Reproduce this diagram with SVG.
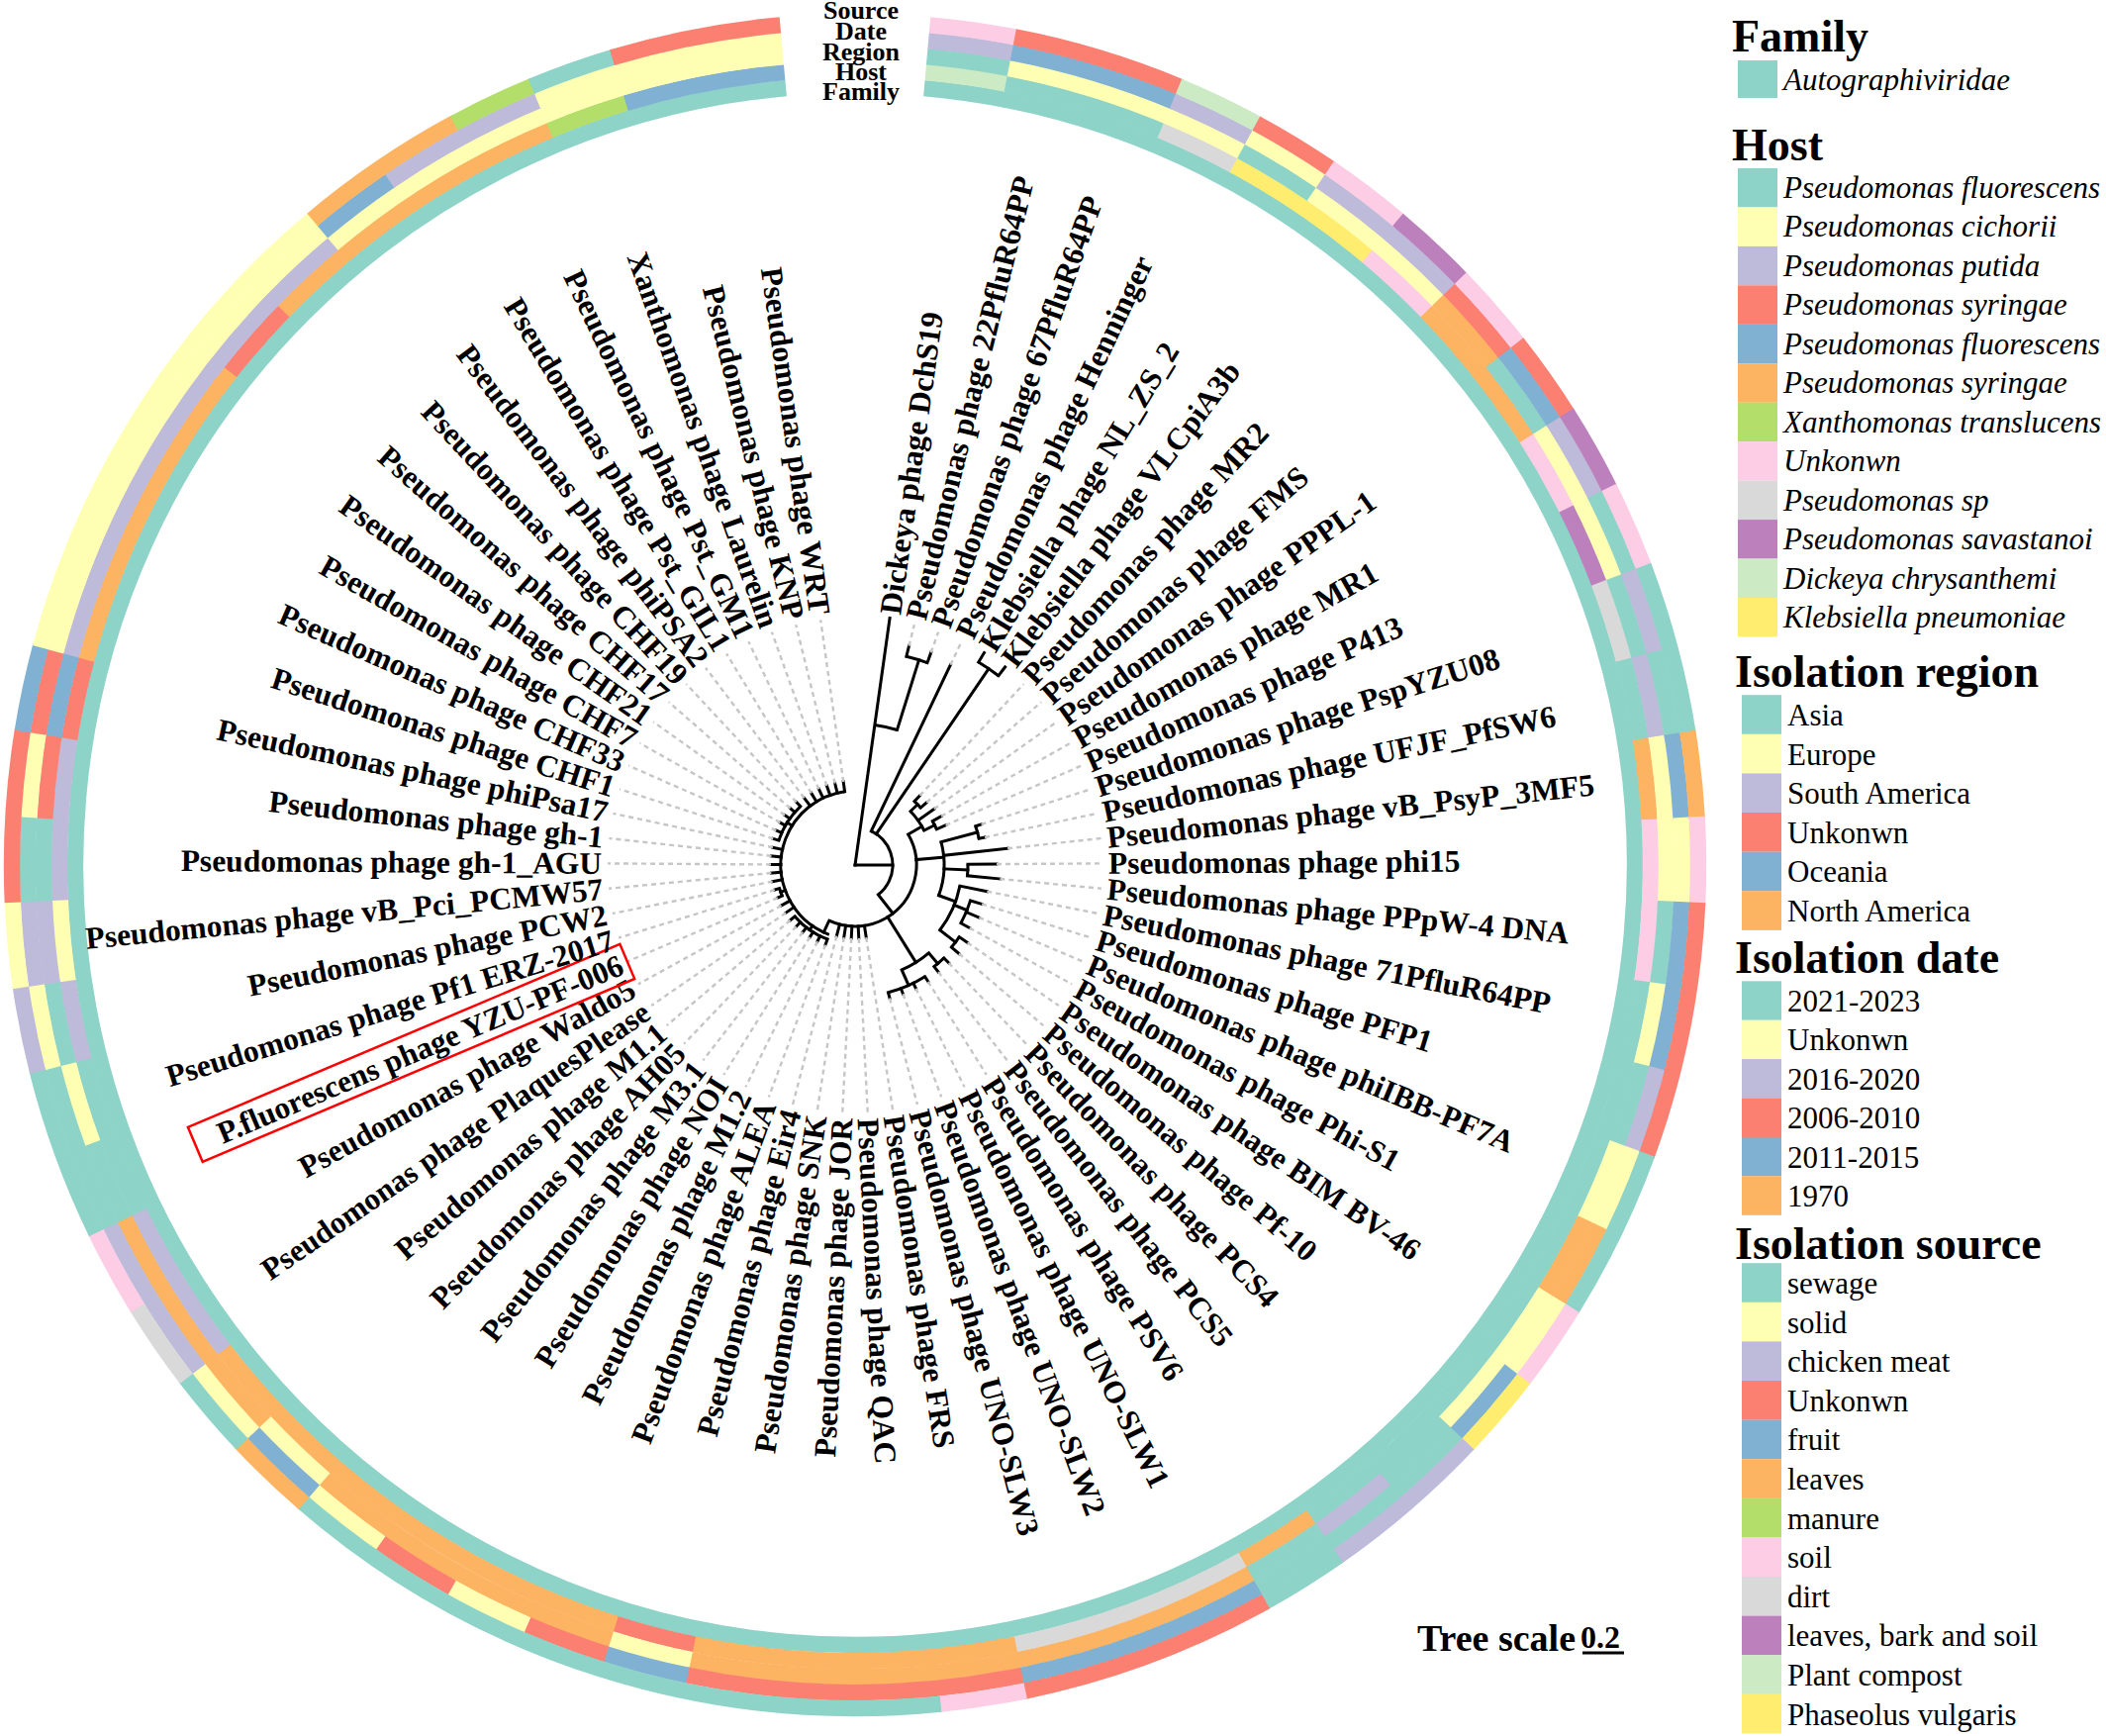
<svg xmlns="http://www.w3.org/2000/svg" width="2128" height="1754" viewBox="0 0 2128 1754">
<style>
.rg circle{fill:none;stroke-width:16.4}
.T{stroke:#8DD3C7}.Y{stroke:#FFFFB3}.L{stroke:#BEBADA}.S{stroke:#FB8072}.B{stroke:#80B1D3}.O{stroke:#FDB462}.G{stroke:#B3DE69}.P{stroke:#FCCDE5}.Gr{stroke:#D9D9D9}.Pu{stroke:#BC80BD}.LG{stroke:#CCEBC5}.K{stroke:#FFED6F}
.fT{fill:#8DD3C7}.fY{fill:#FFFFB3}.fL{fill:#BEBADA}.fS{fill:#FB8072}.fB{fill:#80B1D3}.fO{fill:#FDB462}.fG{fill:#B3DE69}.fP{fill:#FCCDE5}.fGr{fill:#D9D9D9}.fPu{fill:#BC80BD}.fLG{fill:#CCEBC5}.fK{fill:#FFED6F}
.tree line,.tree circle{stroke:#000;stroke-width:3;fill:none}
.tree line{stroke-linecap:square}
.dl{stroke:#c6c6c6;stroke-width:2.4;stroke-dasharray:5 4}
.lbl{font-family:"Liberation Serif","Times New Roman",serif;font-weight:bold;font-size:31.5px;dominant-baseline:central;fill:#000}
.rl{font-family:"Liberation Serif","Times New Roman",serif;font-weight:bold;font-size:26px;text-anchor:middle}
.lh{font-family:"Liberation Serif","Times New Roman",serif;font-weight:bold;font-size:46px}
.li{font-family:"Liberation Serif","Times New Roman",serif;font-style:italic;font-size:31px}
.lr{font-family:"Liberation Serif","Times New Roman",serif;font-size:31px}
.ts{font-family:"Liberation Serif","Times New Roman",serif;font-weight:bold}
</style>
<rect width="2128" height="1754" fill="#fff"/>
<g transform="translate(864 874)">
<g id="ring-family" class="rg">
<circle r="788" pathLength="360" class="T" stroke-dasharray="349.83 400" transform="rotate(-84.915)"/>
</g>
<g id="ring-host" class="rg">
<circle r="804" pathLength="360" class="LG" stroke-dasharray="5.98 400" transform="rotate(-84.915)"/>
<circle r="804" pathLength="360" class="T" stroke-dasharray="11.81 400" transform="rotate(-79.085)"/>
<circle r="804" pathLength="360" class="Gr" stroke-dasharray="5.98 400" transform="rotate(-67.424)"/>
<circle r="804" pathLength="360" class="K" stroke-dasharray="11.81 400" transform="rotate(-61.593)"/>
<circle r="804" pathLength="360" class="P" stroke-dasharray="5.98 400" transform="rotate(-49.932)"/>
<circle r="804" pathLength="360" class="O" stroke-dasharray="11.81 400" transform="rotate(-44.102)"/>
<circle r="804" pathLength="360" class="P" stroke-dasharray="5.98 400" transform="rotate(-32.441)"/>
<circle r="804" pathLength="360" class="Pu" stroke-dasharray="5.98 400" transform="rotate(-26.610)"/>
<circle r="804" pathLength="360" class="Gr" stroke-dasharray="5.98 400" transform="rotate(-20.780)"/>
<circle r="804" pathLength="360" class="T" stroke-dasharray="5.98 400" transform="rotate(-14.949)"/>
<circle r="804" pathLength="360" class="O" stroke-dasharray="5.98 400" transform="rotate(-9.119)"/>
<circle r="804" pathLength="360" class="P" stroke-dasharray="11.81 400" transform="rotate(-3.288)"/>
<circle r="804" pathLength="360" class="T" stroke-dasharray="46.79 400" transform="rotate(8.373)"/>
<circle r="804" pathLength="360" class="O" stroke-dasharray="5.98 400" transform="rotate(55.017)"/>
<circle r="804" pathLength="360" class="Gr" stroke-dasharray="17.64 400" transform="rotate(60.847)"/>
<circle r="804" pathLength="360" class="O" stroke-dasharray="23.47 400" transform="rotate(78.339)"/>
<circle r="804" pathLength="360" class="S" stroke-dasharray="5.98 400" transform="rotate(101.661)"/>
<circle r="804" pathLength="360" class="O" stroke-dasharray="35.13 400" transform="rotate(107.491)"/>
<circle r="804" pathLength="360" class="L" stroke-dasharray="11.81 400" transform="rotate(142.474)"/>
<circle r="804" pathLength="360" class="T" stroke-dasharray="11.81 400" transform="rotate(154.135)"/>
<circle r="804" pathLength="360" class="L" stroke-dasharray="5.98 400" transform="rotate(165.796)"/>
<circle r="804" pathLength="360" class="Y" stroke-dasharray="5.98 400" transform="rotate(171.627)"/>
<circle r="804" pathLength="360" class="L" stroke-dasharray="11.81 400" transform="rotate(177.457)"/>
<circle r="804" pathLength="360" class="S" stroke-dasharray="5.98 400" transform="rotate(189.118)"/>
<circle r="804" pathLength="360" class="O" stroke-dasharray="23.47 400" transform="rotate(194.949)"/>
<circle r="804" pathLength="360" class="S" stroke-dasharray="5.98 400" transform="rotate(218.271)"/>
<circle r="804" pathLength="360" class="O" stroke-dasharray="23.47 400" transform="rotate(224.101)"/>
<circle r="804" pathLength="360" class="G" stroke-dasharray="5.98 400" transform="rotate(247.423)"/>
<circle r="804" pathLength="360" class="B" stroke-dasharray="11.66 400" transform="rotate(253.254)"/>
</g>
<g id="ring-region" class="rg">
<circle r="820" pathLength="360" class="T" stroke-dasharray="5.98 400" transform="rotate(-84.915)"/>
<circle r="820" pathLength="360" class="Y" stroke-dasharray="17.64 400" transform="rotate(-79.085)"/>
<circle r="820" pathLength="360" class="T" stroke-dasharray="5.98 400" transform="rotate(-61.593)"/>
<circle r="820" pathLength="360" class="Y" stroke-dasharray="11.81 400" transform="rotate(-55.763)"/>
<circle r="820" pathLength="360" class="O" stroke-dasharray="5.98 400" transform="rotate(-44.102)"/>
<circle r="820" pathLength="360" class="T" stroke-dasharray="5.98 400" transform="rotate(-38.271)"/>
<circle r="820" pathLength="360" class="Y" stroke-dasharray="11.81 400" transform="rotate(-32.441)"/>
<circle r="820" pathLength="360" class="T" stroke-dasharray="5.98 400" transform="rotate(-20.780)"/>
<circle r="820" pathLength="360" class="L" stroke-dasharray="5.98 400" transform="rotate(-14.949)"/>
<circle r="820" pathLength="360" class="Y" stroke-dasharray="11.81 400" transform="rotate(-9.119)"/>
<circle r="820" pathLength="360" class="T" stroke-dasharray="5.98 400" transform="rotate(2.542)"/>
<circle r="820" pathLength="360" class="Y" stroke-dasharray="5.98 400" transform="rotate(8.373)"/>
<circle r="820" pathLength="360" class="T" stroke-dasharray="5.98 400" transform="rotate(14.203)"/>
<circle r="820" pathLength="360" class="Y" stroke-dasharray="5.98 400" transform="rotate(20.034)"/>
<circle r="820" pathLength="360" class="O" stroke-dasharray="5.98 400" transform="rotate(25.864)"/>
<circle r="820" pathLength="360" class="Y" stroke-dasharray="11.81 400" transform="rotate(31.695)"/>
<circle r="820" pathLength="360" class="T" stroke-dasharray="5.98 400" transform="rotate(43.356)"/>
<circle r="820" pathLength="360" class="L" stroke-dasharray="5.98 400" transform="rotate(49.186)"/>
<circle r="820" pathLength="360" class="T" stroke-dasharray="5.98 400" transform="rotate(55.017)"/>
<circle r="820" pathLength="360" class="O" stroke-dasharray="40.96 400" transform="rotate(60.847)"/>
<circle r="820" pathLength="360" class="Y" stroke-dasharray="5.98 400" transform="rotate(101.661)"/>
<circle r="820" pathLength="360" class="O" stroke-dasharray="23.47 400" transform="rotate(107.491)"/>
<circle r="820" pathLength="360" class="Y" stroke-dasharray="5.98 400" transform="rotate(130.813)"/>
<circle r="820" pathLength="360" class="O" stroke-dasharray="17.64 400" transform="rotate(136.644)"/>
<circle r="820" pathLength="360" class="T" stroke-dasharray="5.98 400" transform="rotate(154.135)"/>
<circle r="820" pathLength="360" class="Y" stroke-dasharray="5.98 400" transform="rotate(159.966)"/>
<circle r="820" pathLength="360" class="T" stroke-dasharray="5.98 400" transform="rotate(165.796)"/>
<circle r="820" pathLength="360" class="L" stroke-dasharray="5.98 400" transform="rotate(171.627)"/>
<circle r="820" pathLength="360" class="T" stroke-dasharray="5.98 400" transform="rotate(177.457)"/>
<circle r="820" pathLength="360" class="S" stroke-dasharray="5.98 400" transform="rotate(183.288)"/>
<circle r="820" pathLength="360" class="B" stroke-dasharray="5.98 400" transform="rotate(189.118)"/>
<circle r="820" pathLength="360" class="L" stroke-dasharray="35.13 400" transform="rotate(194.949)"/>
<circle r="820" pathLength="360" class="Y" stroke-dasharray="34.98 400" transform="rotate(229.932)"/>
</g>
<g id="ring-date" class="rg">
<circle r="836" pathLength="360" class="L" stroke-dasharray="5.98 400" transform="rotate(-84.915)"/>
<circle r="836" pathLength="360" class="B" stroke-dasharray="11.81 400" transform="rotate(-79.085)"/>
<circle r="836" pathLength="360" class="L" stroke-dasharray="5.98 400" transform="rotate(-67.424)"/>
<circle r="836" pathLength="360" class="Y" stroke-dasharray="5.98 400" transform="rotate(-61.593)"/>
<circle r="836" pathLength="360" class="L" stroke-dasharray="11.81 400" transform="rotate(-55.763)"/>
<circle r="836" pathLength="360" class="S" stroke-dasharray="5.98 400" transform="rotate(-44.102)"/>
<circle r="836" pathLength="360" class="B" stroke-dasharray="5.98 400" transform="rotate(-38.271)"/>
<circle r="836" pathLength="360" class="L" stroke-dasharray="5.98 400" transform="rotate(-32.441)"/>
<circle r="836" pathLength="360" class="T" stroke-dasharray="5.98 400" transform="rotate(-26.610)"/>
<circle r="836" pathLength="360" class="L" stroke-dasharray="5.98 400" transform="rotate(-20.780)"/>
<circle r="836" pathLength="360" class="T" stroke-dasharray="5.98 400" transform="rotate(-14.949)"/>
<circle r="836" pathLength="360" class="B" stroke-dasharray="5.98 400" transform="rotate(-9.119)"/>
<circle r="836" pathLength="360" class="Y" stroke-dasharray="5.98 400" transform="rotate(-3.288)"/>
<circle r="836" pathLength="360" class="B" stroke-dasharray="11.81 400" transform="rotate(2.542)"/>
<circle r="836" pathLength="360" class="L" stroke-dasharray="5.98 400" transform="rotate(14.203)"/>
<circle r="836" pathLength="360" class="Y" stroke-dasharray="5.98 400" transform="rotate(20.034)"/>
<circle r="836" pathLength="360" class="O" stroke-dasharray="5.98 400" transform="rotate(25.864)"/>
<circle r="836" pathLength="360" class="Y" stroke-dasharray="5.98 400" transform="rotate(31.695)"/>
<circle r="836" pathLength="360" class="B" stroke-dasharray="5.98 400" transform="rotate(37.525)"/>
<circle r="836" pathLength="360" class="T" stroke-dasharray="17.64 400" transform="rotate(43.356)"/>
<circle r="836" pathLength="360" class="B" stroke-dasharray="17.64 400" transform="rotate(60.847)"/>
<circle r="836" pathLength="360" class="S" stroke-dasharray="23.47 400" transform="rotate(78.339)"/>
<circle r="836" pathLength="360" class="B" stroke-dasharray="5.98 400" transform="rotate(101.661)"/>
<circle r="836" pathLength="360" class="S" stroke-dasharray="5.98 400" transform="rotate(107.491)"/>
<circle r="836" pathLength="360" class="Y" stroke-dasharray="5.98 400" transform="rotate(113.322)"/>
<circle r="836" pathLength="360" class="S" stroke-dasharray="5.98 400" transform="rotate(119.152)"/>
<circle r="836" pathLength="360" class="Y" stroke-dasharray="5.98 400" transform="rotate(124.983)"/>
<circle r="836" pathLength="360" class="B" stroke-dasharray="5.98 400" transform="rotate(130.813)"/>
<circle r="836" pathLength="360" class="Y" stroke-dasharray="5.98 400" transform="rotate(136.644)"/>
<circle r="836" pathLength="360" class="L" stroke-dasharray="11.81 400" transform="rotate(142.474)"/>
<circle r="836" pathLength="360" class="T" stroke-dasharray="11.81 400" transform="rotate(154.135)"/>
<circle r="836" pathLength="360" class="Y" stroke-dasharray="5.98 400" transform="rotate(165.796)"/>
<circle r="836" pathLength="360" class="L" stroke-dasharray="5.98 400" transform="rotate(171.627)"/>
<circle r="836" pathLength="360" class="T" stroke-dasharray="5.98 400" transform="rotate(177.457)"/>
<circle r="836" pathLength="360" class="Y" stroke-dasharray="5.98 400" transform="rotate(183.288)"/>
<circle r="836" pathLength="360" class="S" stroke-dasharray="5.98 400" transform="rotate(189.118)"/>
<circle r="836" pathLength="360" class="Y" stroke-dasharray="35.13 400" transform="rotate(194.949)"/>
<circle r="836" pathLength="360" class="B" stroke-dasharray="5.98 400" transform="rotate(229.932)"/>
<circle r="836" pathLength="360" class="L" stroke-dasharray="11.81 400" transform="rotate(235.762)"/>
<circle r="836" pathLength="360" class="Y" stroke-dasharray="17.49 400" transform="rotate(247.423)"/>
</g>
<g id="ring-source" class="rg">
<circle r="852" pathLength="360" class="P" stroke-dasharray="5.98 400" transform="rotate(-84.915)"/>
<circle r="852" pathLength="360" class="S" stroke-dasharray="11.81 400" transform="rotate(-79.085)"/>
<circle r="852" pathLength="360" class="LG" stroke-dasharray="5.98 400" transform="rotate(-67.424)"/>
<circle r="852" pathLength="360" class="S" stroke-dasharray="5.98 400" transform="rotate(-61.593)"/>
<circle r="852" pathLength="360" class="P" stroke-dasharray="5.98 400" transform="rotate(-55.763)"/>
<circle r="852" pathLength="360" class="Pu" stroke-dasharray="5.98 400" transform="rotate(-49.932)"/>
<circle r="852" pathLength="360" class="P" stroke-dasharray="5.98 400" transform="rotate(-44.102)"/>
<circle r="852" pathLength="360" class="S" stroke-dasharray="5.98 400" transform="rotate(-38.271)"/>
<circle r="852" pathLength="360" class="Pu" stroke-dasharray="5.98 400" transform="rotate(-32.441)"/>
<circle r="852" pathLength="360" class="P" stroke-dasharray="5.98 400" transform="rotate(-26.610)"/>
<circle r="852" pathLength="360" class="T" stroke-dasharray="11.81 400" transform="rotate(-20.780)"/>
<circle r="852" pathLength="360" class="O" stroke-dasharray="5.98 400" transform="rotate(-9.119)"/>
<circle r="852" pathLength="360" class="P" stroke-dasharray="5.98 400" transform="rotate(-3.288)"/>
<circle r="852" pathLength="360" class="S" stroke-dasharray="17.64 400" transform="rotate(2.542)"/>
<circle r="852" pathLength="360" class="T" stroke-dasharray="11.81 400" transform="rotate(20.034)"/>
<circle r="852" pathLength="360" class="P" stroke-dasharray="5.98 400" transform="rotate(31.695)"/>
<circle r="852" pathLength="360" class="K" stroke-dasharray="5.98 400" transform="rotate(37.525)"/>
<circle r="852" pathLength="360" class="L" stroke-dasharray="11.81 400" transform="rotate(43.356)"/>
<circle r="852" pathLength="360" class="T" stroke-dasharray="5.98 400" transform="rotate(55.017)"/>
<circle r="852" pathLength="360" class="S" stroke-dasharray="17.64 400" transform="rotate(60.847)"/>
<circle r="852" pathLength="360" class="P" stroke-dasharray="5.98 400" transform="rotate(78.339)"/>
<circle r="852" pathLength="360" class="T" stroke-dasharray="46.79 400" transform="rotate(84.169)"/>
<circle r="852" pathLength="360" class="O" stroke-dasharray="5.98 400" transform="rotate(130.813)"/>
<circle r="852" pathLength="360" class="T" stroke-dasharray="5.98 400" transform="rotate(136.644)"/>
<circle r="852" pathLength="360" class="Gr" stroke-dasharray="5.98 400" transform="rotate(142.474)"/>
<circle r="852" pathLength="360" class="P" stroke-dasharray="5.98 400" transform="rotate(148.305)"/>
<circle r="852" pathLength="360" class="T" stroke-dasharray="11.81 400" transform="rotate(154.135)"/>
<circle r="852" pathLength="360" class="L" stroke-dasharray="5.98 400" transform="rotate(165.796)"/>
<circle r="852" pathLength="360" class="Y" stroke-dasharray="5.98 400" transform="rotate(171.627)"/>
<circle r="852" pathLength="360" class="S" stroke-dasharray="11.81 400" transform="rotate(177.457)"/>
<circle r="852" pathLength="360" class="B" stroke-dasharray="5.98 400" transform="rotate(189.118)"/>
<circle r="852" pathLength="360" class="Y" stroke-dasharray="35.13 400" transform="rotate(194.949)"/>
<circle r="852" pathLength="360" class="O" stroke-dasharray="11.81 400" transform="rotate(229.932)"/>
<circle r="852" pathLength="360" class="G" stroke-dasharray="5.98 400" transform="rotate(241.593)"/>
<circle r="852" pathLength="360" class="T" stroke-dasharray="5.98 400" transform="rotate(247.423)"/>
<circle r="852" pathLength="360" class="S" stroke-dasharray="11.66 400" transform="rotate(253.254)"/>
</g>

<g id="connectors" class="tree">
<line y1="0" y2="-252" transform="rotate(8)"/>
<circle r="143" pathLength="360" stroke-dasharray="9.3 400" transform="rotate(-82)"/>
<line y1="-143" y2="-217" transform="rotate(17.3)"/>
<circle r="217" pathLength="360" stroke-dasharray="5.83 400" transform="rotate(-76.17)"/>
<line y1="-217" y2="-228" transform="rotate(13.83)"/>
<line y1="-217" y2="-228" transform="rotate(19.66)"/>
<line y1="0" y2="-38" transform="rotate(90)"/>
<circle r="38" pathLength="360" stroke-dasharray="116.51 400" transform="rotate(-64.51)"/>
<line y1="-38" y2="-224" transform="rotate(25.49)"/>
<line y1="-38" y2="-240" transform="rotate(34.24)"/>
<circle r="240" pathLength="360" stroke-dasharray="5.83 400" transform="rotate(-58.68)"/>
<line y1="-240" y2="-251" transform="rotate(31.32)"/>
<line y1="-240" y2="-251" transform="rotate(37.15)"/>
<line y1="-38" y2="-62" transform="rotate(142)"/>
<circle r="62" pathLength="360" stroke-dasharray="145 400" transform="rotate(-30)"/>
<line y1="-62" y2="-78" transform="rotate(60)"/>
<circle r="78" pathLength="360" stroke-dasharray="17.5 400" transform="rotate(-44.1)"/>
<line y1="-78" y2="-88" transform="rotate(45.9)"/>
<circle r="88" pathLength="360" stroke-dasharray="5.83 400" transform="rotate(-47.02)"/>
<line y1="-88" y2="-96" transform="rotate(42.98)"/>
<line y1="-88" y2="-96" transform="rotate(48.81)"/>
<line y1="-78" y2="-98" transform="rotate(54.64)"/>
<line y1="-78" y2="-90" transform="rotate(63.4)"/>
<circle r="90" pathLength="360" stroke-dasharray="5.84 400" transform="rotate(-29.53)"/>
<line y1="-90" y2="-100" transform="rotate(60.47)"/>
<line y1="-90" y2="-100" transform="rotate(66.31)"/>
<line y1="-62" y2="-90" transform="rotate(85)"/>
<circle r="90" pathLength="360" stroke-dasharray="35 400" transform="rotate(-15)"/>
<line y1="-90" y2="-128" transform="rotate(75)"/>
<circle r="128" pathLength="360" stroke-dasharray="5.83 400" transform="rotate(-17.86)"/>
<line y1="-128" y2="-134" transform="rotate(72.14)"/>
<line y1="-128" y2="-134" transform="rotate(77.97)"/>
<line y1="-90" y2="-155" transform="rotate(83.8)"/>
<line y1="-90" y2="-114" transform="rotate(92.5)"/>
<circle r="114" pathLength="360" stroke-dasharray="5.83 400" transform="rotate(-0.37)"/>
<line y1="-114" y2="-143" transform="rotate(89.63)"/>
<line y1="-114" y2="-147" transform="rotate(95.46)"/>
<line y1="-90" y2="-108" transform="rotate(110)"/>
<circle r="108" pathLength="360" stroke-dasharray="26.21 400" transform="rotate(11.29)"/>
<line y1="-108" y2="-136" transform="rotate(101.29)"/>
<line y1="-108" y2="-122" transform="rotate(112)"/>
<circle r="122" pathLength="360" stroke-dasharray="11.66 400" transform="rotate(17.12)"/>
<line y1="-122" y2="-134" transform="rotate(107.12)"/>
<line y1="-122" y2="-136" transform="rotate(112.95)"/>
<line y1="-122" y2="-132" transform="rotate(118.78)"/>
<line y1="-108" y2="-128" transform="rotate(127.5)"/>
<circle r="128" pathLength="360" stroke-dasharray="5.83 400" transform="rotate(34.61)"/>
<line y1="-128" y2="-138" transform="rotate(124.61)"/>
<line y1="-128" y2="-138" transform="rotate(130.44)"/>
<line y1="-62" y2="-116" transform="rotate(148)"/>
<circle r="116" pathLength="360" stroke-dasharray="16 400" transform="rotate(50)"/>
<line y1="-116" y2="-130" transform="rotate(140)"/>
<circle r="130" pathLength="360" stroke-dasharray="5.83 400" transform="rotate(46.27)"/>
<line y1="-130" y2="-137" transform="rotate(136.27)"/>
<line y1="-130" y2="-137" transform="rotate(142.1)"/>
<line y1="-116" y2="-133" transform="rotate(156)"/>
<circle r="133" pathLength="360" stroke-dasharray="17.49 400" transform="rotate(57.93)"/>
<line y1="-133" y2="-139" transform="rotate(147.93)"/>
<line y1="-133" y2="-139" transform="rotate(153.76)"/>
<line y1="-133" y2="-139" transform="rotate(159.59)"/>
<line y1="-133" y2="-139" transform="rotate(165.42)"/>
<line y1="-62" y2="-74" transform="rotate(171.25)"/>
<line y1="-62" y2="-74" transform="rotate(177.08)"/>
<line y1="-62" y2="-74" transform="rotate(182.92)"/>
<line y1="-62" y2="-74" transform="rotate(188.75)"/>
<line y1="-62" y2="-74" transform="rotate(194.58)"/>
<line y1="-62" y2="-75" transform="rotate(205)"/>
<circle r="75" pathLength="360" stroke-dasharray="151.59 400" transform="rotate(110.41)"/>
<line y1="-75" y2="-80" transform="rotate(215)"/>
<circle r="80" pathLength="360" stroke-dasharray="29.15 400" transform="rotate(110.41)"/>
<line y1="-80" y2="-86" transform="rotate(200.41)"/>
<line y1="-80" y2="-86" transform="rotate(206.24)"/>
<line y1="-80" y2="-86" transform="rotate(212.07)"/>
<line y1="-80" y2="-86" transform="rotate(217.9)"/>
<line y1="-80" y2="-86" transform="rotate(223.73)"/>
<line y1="-80" y2="-86" transform="rotate(229.56)"/>
<line y1="-75" y2="-85" transform="rotate(235.39)"/>
<line y1="-75" y2="-85" transform="rotate(241.22)"/>
<line y1="-75" y2="-80" transform="rotate(250)"/>
<circle r="80" pathLength="360" stroke-dasharray="5.83 400" transform="rotate(157.05)"/>
<line y1="-80" y2="-85" transform="rotate(247.05)"/>
<line y1="-80" y2="-85" transform="rotate(252.88)"/>
<line y1="-75" y2="-85" transform="rotate(258.71)"/>
<line y1="-75" y2="-85" transform="rotate(264.54)"/>
<line y1="-75" y2="-85" transform="rotate(270.37)"/>
<line y1="-75" y2="-85" transform="rotate(276.2)"/>
<line y1="-75" y2="-85" transform="rotate(282.03)"/>
<line y1="-75" y2="-81" transform="rotate(302)"/>
<circle r="81" pathLength="360" stroke-dasharray="29.15 400" transform="rotate(197.86)"/>
<line y1="-81" y2="-87" transform="rotate(287.86)"/>
<line y1="-81" y2="-87" transform="rotate(293.69)"/>
<line y1="-81" y2="-87" transform="rotate(299.52)"/>
<line y1="-81" y2="-87" transform="rotate(305.35)"/>
<line y1="-81" y2="-87" transform="rotate(311.18)"/>
<line y1="-81" y2="-87" transform="rotate(317.01)"/>
<line y1="-75" y2="-85" transform="rotate(322.84)"/>
<line y1="-75" y2="-85" transform="rotate(328.68)"/>
<line y1="-75" y2="-85" transform="rotate(334.51)"/>
<line y1="-75" y2="-85" transform="rotate(340.34)"/>
<line y1="-75" y2="-85" transform="rotate(346.17)"/>
<line y1="-75" y2="-85" transform="rotate(352)"/>
</g>

<g id="leaf01"><text class="lbl" x="256" transform="rotate(-82)">Dickeya phage DchS19</text></g>
<g id="leaf02"><line class="dl" y1="-228" y2="-250" transform="rotate(13.83)"/><text class="lbl" x="256" transform="rotate(-76.17)">Pseudomonas phage 22PfluR64PP</text></g>
<g id="leaf03"><line class="dl" y1="-228" y2="-250" transform="rotate(19.66)"/><text class="lbl" x="256" transform="rotate(-70.34)">Pseudomonas phage 67PfluR64PP</text></g>
<g id="leaf04"><line class="dl" y1="-224" y2="-250" transform="rotate(25.49)"/><text class="lbl" x="256" transform="rotate(-64.51)">Pseudomonas phage Henninger</text></g>
<g id="leaf05"><text class="lbl" x="256" transform="rotate(-58.68)">Klebsiella phage NL_ZS_2</text></g>
<g id="leaf06"><text class="lbl" x="256" transform="rotate(-52.85)">Klebsiella phage VLCpiA3b</text></g>
<g id="leaf07"><line class="dl" y1="-96" y2="-250" transform="rotate(42.98)"/><text class="lbl" x="256" transform="rotate(-47.02)">Pseudomonas phage MR2</text></g>
<g id="leaf08"><line class="dl" y1="-96" y2="-250" transform="rotate(48.81)"/><text class="lbl" x="256" transform="rotate(-41.19)">Pseudomonas phage FMS</text></g>
<g id="leaf09"><line class="dl" y1="-98" y2="-250" transform="rotate(54.64)"/><text class="lbl" x="256" transform="rotate(-35.36)">Pseudomonas phage PPPL-1</text></g>
<g id="leaf10"><line class="dl" y1="-100" y2="-250" transform="rotate(60.47)"/><text class="lbl" x="256" transform="rotate(-29.53)">Pseudomonas phage MR1</text></g>
<g id="leaf11"><line class="dl" y1="-100" y2="-250" transform="rotate(66.31)"/><text class="lbl" x="256" transform="rotate(-23.69)">Pseudomonas phage P413</text></g>
<g id="leaf12"><line class="dl" y1="-134" y2="-250" transform="rotate(72.14)"/><text class="lbl" x="256" transform="rotate(-17.86)">Pseudomonas phage PspYZU08</text></g>
<g id="leaf13"><line class="dl" y1="-134" y2="-250" transform="rotate(77.97)"/><text class="lbl" x="256" transform="rotate(-12.03)">Pseudomonas phage UFJF_PfSW6</text></g>
<g id="leaf14"><line class="dl" y1="-155" y2="-250" transform="rotate(83.8)"/><text class="lbl" x="256" transform="rotate(-6.2)">Pseudomonas phage vB_PsyP_3MF5</text></g>
<g id="leaf15"><line class="dl" y1="-143" y2="-250" transform="rotate(89.63)"/><text class="lbl" x="256" transform="rotate(-0.37)">Pseudomonas phage phi15</text></g>
<g id="leaf16"><line class="dl" y1="-147" y2="-250" transform="rotate(95.46)"/><text class="lbl" x="256" transform="rotate(5.46)">Pseudomonas phage PPpW-4 DNA</text></g>
<g id="leaf17"><line class="dl" y1="-136" y2="-250" transform="rotate(101.29)"/><text class="lbl" x="256" transform="rotate(11.29)">Pseudomonas phage 71PfluR64PP</text></g>
<g id="leaf18"><line class="dl" y1="-134" y2="-250" transform="rotate(107.12)"/><text class="lbl" x="256" transform="rotate(17.12)">Pseudomonas phage PFP1</text></g>
<g id="leaf19"><line class="dl" y1="-136" y2="-250" transform="rotate(112.95)"/><text class="lbl" x="256" transform="rotate(22.95)">Pseudomonas phage phiIBB-PF7A</text></g>
<g id="leaf20"><line class="dl" y1="-132" y2="-250" transform="rotate(118.78)"/><text class="lbl" x="256" transform="rotate(28.78)">Pseudomonas phage Phi-S1</text></g>
<g id="leaf21"><line class="dl" y1="-138" y2="-250" transform="rotate(124.61)"/><text class="lbl" x="256" transform="rotate(34.61)">Pseudomonas phage BIM BV-46</text></g>
<g id="leaf22"><line class="dl" y1="-138" y2="-250" transform="rotate(130.44)"/><text class="lbl" x="256" transform="rotate(40.44)">Pseudomonas phage Pf-10</text></g>
<g id="leaf23"><line class="dl" y1="-137" y2="-250" transform="rotate(136.27)"/><text class="lbl" x="256" transform="rotate(46.27)">Pseudomonas phage PCS4</text></g>
<g id="leaf24"><line class="dl" y1="-137" y2="-250" transform="rotate(142.1)"/><text class="lbl" x="256" transform="rotate(52.1)">Pseudomonas phage PCS5</text></g>
<g id="leaf25"><line class="dl" y1="-139" y2="-250" transform="rotate(147.93)"/><text class="lbl" x="256" transform="rotate(57.93)">Pseudomonas phage PSV6</text></g>
<g id="leaf26"><line class="dl" y1="-139" y2="-250" transform="rotate(153.76)"/><text class="lbl" x="256" transform="rotate(63.76)">Pseudomonas phage UNO-SLW1</text></g>
<g id="leaf27"><line class="dl" y1="-139" y2="-250" transform="rotate(159.59)"/><text class="lbl" x="256" transform="rotate(69.59)">Pseudomonas phage UNO-SLW2</text></g>
<g id="leaf28"><line class="dl" y1="-139" y2="-250" transform="rotate(165.42)"/><text class="lbl" x="256" transform="rotate(75.42)">Pseudomonas phage UNO-SLW3</text></g>
<g id="leaf29"><line class="dl" y1="-74" y2="-250" transform="rotate(171.25)"/><text class="lbl" x="256" transform="rotate(81.25)">Pseudomonas phage FRS</text></g>
<g id="leaf30"><line class="dl" y1="-74" y2="-250" transform="rotate(177.08)"/><text class="lbl" x="256" transform="rotate(87.08)">Pseudomonas phage QAC</text></g>
<g id="leaf31"><line class="dl" y1="-74" y2="-250" transform="rotate(182.92)"/><text class="lbl" x="-256" text-anchor="end" transform="rotate(-87.08)">Pseudomonas phage JOR</text></g>
<g id="leaf32"><line class="dl" y1="-74" y2="-250" transform="rotate(188.75)"/><text class="lbl" x="-256" text-anchor="end" transform="rotate(-81.25)">Pseudomonas phage SNK</text></g>
<g id="leaf33"><line class="dl" y1="-74" y2="-250" transform="rotate(194.58)"/><text class="lbl" x="-256" text-anchor="end" transform="rotate(-75.42)">Pseudomonas phage Eir4</text></g>
<g id="leaf34"><line class="dl" y1="-86" y2="-250" transform="rotate(200.41)"/><text class="lbl" x="-256" text-anchor="end" transform="rotate(-69.59)">Pseudomonas phage ALEA</text></g>
<g id="leaf35"><line class="dl" y1="-86" y2="-250" transform="rotate(206.24)"/><text class="lbl" x="-256" text-anchor="end" transform="rotate(-63.76)">Pseudomonas phage M1.2</text></g>
<g id="leaf36"><line class="dl" y1="-86" y2="-250" transform="rotate(212.07)"/><text class="lbl" x="-256" text-anchor="end" transform="rotate(-57.93)">Pseudomonas phage NOI</text></g>
<g id="leaf37"><line class="dl" y1="-86" y2="-250" transform="rotate(217.9)"/><text class="lbl" x="-256" text-anchor="end" transform="rotate(-52.1)">Pseudomonas phage M3.1</text></g>
<g id="leaf38"><line class="dl" y1="-86" y2="-250" transform="rotate(223.73)"/><text class="lbl" x="-256" text-anchor="end" transform="rotate(-46.27)">Pseudomonas phage AH05</text></g>
<g id="leaf39"><line class="dl" y1="-86" y2="-250" transform="rotate(229.56)"/><text class="lbl" x="-256" text-anchor="end" transform="rotate(-40.44)">Pseudomonas phage M1.1</text></g>
<g id="leaf40"><line class="dl" y1="-85" y2="-250" transform="rotate(235.39)"/><text class="lbl" x="-256" text-anchor="end" transform="rotate(-34.61)">Pseudomonas phage PlaquesPlease</text></g>
<g id="leaf41"><line class="dl" y1="-85" y2="-250" transform="rotate(241.22)"/><text class="lbl" x="-256" text-anchor="end" transform="rotate(-28.78)">Pseudomonas phage Waldo5</text></g>
<g id="leaf42"><line class="dl" y1="-85" y2="-250" transform="rotate(247.05)"/><g transform="rotate(-22.95)"><rect x="-724" y="-19" width="474" height="38" fill="none" stroke="#f00" stroke-width="2.5"/><text class="lbl" x="-256" text-anchor="end">P.fluorescens phage YZU-PF-006</text></g></g>
<g id="leaf43"><line class="dl" y1="-85" y2="-250" transform="rotate(252.88)"/><text class="lbl" x="-256" text-anchor="end" transform="rotate(-17.12)">Pseudomonas phage Pf1 ERZ-2017</text></g>
<g id="leaf44"><line class="dl" y1="-85" y2="-250" transform="rotate(258.71)"/><text class="lbl" x="-256" text-anchor="end" transform="rotate(-11.29)">Pseudomonas phage PCW2</text></g>
<g id="leaf45"><line class="dl" y1="-85" y2="-250" transform="rotate(264.54)"/><text class="lbl" x="-256" text-anchor="end" transform="rotate(-5.46)">Pseudomonas phage vB_Pci_PCMW57</text></g>
<g id="leaf46"><line class="dl" y1="-85" y2="-250" transform="rotate(270.37)"/><text class="lbl" x="-256" text-anchor="end" transform="rotate(0.37)">Pseudomonas phage gh-1_AGU</text></g>
<g id="leaf47"><line class="dl" y1="-85" y2="-250" transform="rotate(276.2)"/><text class="lbl" x="-256" text-anchor="end" transform="rotate(6.2)">Pseudomonas phage gh-1</text></g>
<g id="leaf48"><line class="dl" y1="-85" y2="-250" transform="rotate(282.03)"/><text class="lbl" x="-256" text-anchor="end" transform="rotate(12.03)">Pseudomonas phage phiPsa17</text></g>
<g id="leaf49"><line class="dl" y1="-87" y2="-250" transform="rotate(287.86)"/><text class="lbl" x="-256" text-anchor="end" transform="rotate(17.86)">Pseudomonas phage CHF1</text></g>
<g id="leaf50"><line class="dl" y1="-87" y2="-250" transform="rotate(293.69)"/><text class="lbl" x="-256" text-anchor="end" transform="rotate(23.69)">Pseudomonas phage CHF33</text></g>
<g id="leaf51"><line class="dl" y1="-87" y2="-250" transform="rotate(299.52)"/><text class="lbl" x="-256" text-anchor="end" transform="rotate(29.52)">Pseudomonas phage CHF7</text></g>
<g id="leaf52"><line class="dl" y1="-87" y2="-250" transform="rotate(305.35)"/><text class="lbl" x="-256" text-anchor="end" transform="rotate(35.35)">Pseudomonas phage CHF21</text></g>
<g id="leaf53"><line class="dl" y1="-87" y2="-250" transform="rotate(311.18)"/><text class="lbl" x="-256" text-anchor="end" transform="rotate(41.18)">Pseudomonas phage CHF17</text></g>
<g id="leaf54"><line class="dl" y1="-87" y2="-250" transform="rotate(317.01)"/><text class="lbl" x="-256" text-anchor="end" transform="rotate(47.01)">Pseudomonas phage CHF19</text></g>
<g id="leaf55"><line class="dl" y1="-85" y2="-250" transform="rotate(322.84)"/><text class="lbl" x="-256" text-anchor="end" transform="rotate(52.84)">Pseudomonas phage phiPSA2</text></g>
<g id="leaf56"><line class="dl" y1="-85" y2="-250" transform="rotate(328.68)"/><text class="lbl" x="-256" text-anchor="end" transform="rotate(58.68)">Pseudomonas phage Pst_GIL1</text></g>
<g id="leaf57"><line class="dl" y1="-85" y2="-250" transform="rotate(334.51)"/><text class="lbl" x="-256" text-anchor="end" transform="rotate(64.51)">Pseudomonas phage Pst_GM1</text></g>
<g id="leaf58"><line class="dl" y1="-85" y2="-250" transform="rotate(340.34)"/><text class="lbl" x="-256" text-anchor="end" transform="rotate(70.34)">Xanthomonas phage Laurelin</text></g>
<g id="leaf59"><line class="dl" y1="-85" y2="-250" transform="rotate(346.17)"/><text class="lbl" x="-256" text-anchor="end" transform="rotate(76.17)">Pseudomonas phage KNP</text></g>
<g id="leaf60"><line class="dl" y1="-85" y2="-250" transform="rotate(352)"/><text class="lbl" x="-256" text-anchor="end" transform="rotate(82)">Pseudomonas phage WRT</text></g>
</g>

<g id="ring-labels">
<text class="rl" x="870" y="19">Source</text>
<text class="rl" x="870" y="40">Date</text>
<text class="rl" x="870" y="61">Region</text>
<text class="rl" x="870" y="81">Host</text>
<text class="rl" x="870" y="101">Family</text>
</g>

<g id="legend-family">
<text class="lh" x="1750" y="52">Family</text>
<rect class="fT" x="1756" y="61" width="40" height="38"/>
<text class="li" x="1802" y="91">Autographiviridae</text>
</g>
<g id="legend-host">
<text class="lh" x="1750" y="162">Host</text>
<rect class="fT" x="1756" y="170" width="40" height="39.5"/>
<rect class="fY" x="1756" y="209.45" width="40" height="39.5"/>
<rect class="fL" x="1756" y="248.9" width="40" height="39.5"/>
<rect class="fS" x="1756" y="288.35" width="40" height="39.5"/>
<rect class="fB" x="1756" y="327.8" width="40" height="39.5"/>
<rect class="fO" x="1756" y="367.25" width="40" height="39.5"/>
<rect class="fG" x="1756" y="406.7" width="40" height="39.5"/>
<rect class="fP" x="1756" y="446.15" width="40" height="39.5"/>
<rect class="fGr" x="1756" y="485.6" width="40" height="39.5"/>
<rect class="fPu" x="1756" y="525.05" width="40" height="39.5"/>
<rect class="fLG" x="1756" y="564.5" width="40" height="39.5"/>
<rect class="fK" x="1756" y="603.95" width="40" height="39.5"/>
<text class="li" x="1802" y="200">Pseudomonas fluorescens</text>
<text class="li" x="1802" y="239.45">Pseudomonas cichorii</text>
<text class="li" x="1802" y="278.9">Pseudomonas putida</text>
<text class="li" x="1802" y="318.35">Pseudomonas syringae</text>
<text class="li" x="1802" y="357.8">Pseudomonas fluorescens</text>
<text class="li" x="1802" y="397.25">Pseudomonas syringae</text>
<text class="li" x="1802" y="436.7">Xanthomonas translucens</text>
<text class="li" x="1802" y="476.15">Unkonwn</text>
<text class="li" x="1802" y="515.6">Pseudomonas sp</text>
<text class="li" x="1802" y="555.05">Pseudomonas savastanoi</text>
<text class="li" x="1802" y="594.5">Dickeya chrysanthemi</text>
<text class="li" x="1802" y="633.95">Klebsiella pneumoniae</text>
</g>
<g id="legend-region">
<text class="lh" x="1753" y="694">Isolation region</text>
<rect class="fT" x="1760" y="702.2" width="40" height="39.7"/>
<rect class="fY" x="1760" y="741.8" width="40" height="39.7"/>
<rect class="fL" x="1760" y="781.4" width="40" height="39.7"/>
<rect class="fS" x="1760" y="821" width="40" height="39.7"/>
<rect class="fB" x="1760" y="860.6" width="40" height="39.7"/>
<rect class="fO" x="1760" y="900.2" width="40" height="39.7"/>
<text class="lr" x="1806" y="733">Asia</text>
<text class="lr" x="1806" y="772.6">Europe</text>
<text class="lr" x="1806" y="812.2">South America</text>
<text class="lr" x="1806" y="851.8">Unkonwn</text>
<text class="lr" x="1806" y="891.4">Oceania</text>
<text class="lr" x="1806" y="931">North America</text>
</g>
<g id="legend-date">
<text class="lh" x="1753" y="983">Isolation date</text>
<rect class="fT" x="1760" y="991.3" width="40" height="39.5"/>
<rect class="fY" x="1760" y="1030.7" width="40" height="39.5"/>
<rect class="fL" x="1760" y="1070.1" width="40" height="39.5"/>
<rect class="fS" x="1760" y="1109.5" width="40" height="39.5"/>
<rect class="fB" x="1760" y="1148.9" width="40" height="39.5"/>
<rect class="fO" x="1760" y="1188.3" width="40" height="39.5"/>
<text class="lr" x="1806" y="1022">2021-2023</text>
<text class="lr" x="1806" y="1061.4">Unkonwn</text>
<text class="lr" x="1806" y="1100.8">2016-2020</text>
<text class="lr" x="1806" y="1140.2">2006-2010</text>
<text class="lr" x="1806" y="1179.6">2011-2015</text>
<text class="lr" x="1806" y="1219">1970</text>
</g>
<g id="legend-source">
<text class="lh" x="1753" y="1272">Isolation source</text>
<rect class="fT" x="1760" y="1276.2" width="40" height="39.7"/>
<rect class="fY" x="1760" y="1315.8" width="40" height="39.7"/>
<rect class="fL" x="1760" y="1355.4" width="40" height="39.7"/>
<rect class="fS" x="1760" y="1395" width="40" height="39.7"/>
<rect class="fB" x="1760" y="1434.6" width="40" height="39.7"/>
<rect class="fO" x="1760" y="1474.2" width="40" height="39.7"/>
<rect class="fG" x="1760" y="1513.8" width="40" height="39.7"/>
<rect class="fP" x="1760" y="1553.4" width="40" height="39.7"/>
<rect class="fGr" x="1760" y="1593" width="40" height="39.7"/>
<rect class="fPu" x="1760" y="1632.6" width="40" height="39.7"/>
<rect class="fLG" x="1760" y="1672.2" width="40" height="39.7"/>
<rect class="fK" x="1760" y="1711.8" width="40" height="39.7"/>
<text class="lr" x="1806" y="1307">sewage</text>
<text class="lr" x="1806" y="1346.6">solid</text>
<text class="lr" x="1806" y="1386.2">chicken meat</text>
<text class="lr" x="1806" y="1425.8">Unkonwn</text>
<text class="lr" x="1806" y="1465.4">fruit</text>
<text class="lr" x="1806" y="1505">leaves</text>
<text class="lr" x="1806" y="1544.6">manure</text>
<text class="lr" x="1806" y="1584.2">soil</text>
<text class="lr" x="1806" y="1623.8">dirt</text>
<text class="lr" x="1806" y="1663.4">leaves, bark and soil</text>
<text class="lr" x="1806" y="1703">Plant compost</text>
<text class="lr" x="1806" y="1742.6">Phaseolus vulgaris</text>
</g>

<g id="tree-scale">
<text class="ts" x="1432" y="1668" font-size="38">Tree scale</text>
<text class="ts" x="1597" y="1665" font-size="32">0.2</text>
<line x1="1599" y1="1670" x2="1641" y2="1670" stroke="#000" stroke-width="3"/>
</g>
</svg>
